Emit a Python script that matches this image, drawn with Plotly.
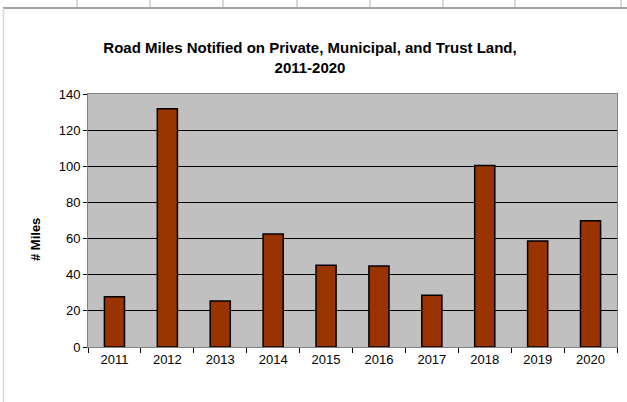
import plotly.graph_objects as go

years = ["2011", "2012", "2013", "2014", "2015", "2016", "2017", "2018", "2019", "2020"]
miles = [27.8, 131.8, 25.5, 62.5, 45.3, 44.8, 28.7, 100.4, 58.6, 69.9]
y_ticks = [0, 20, 40, 60, 80, 100, 120, 140]

W, H = 627, 402
L, R, T, B = 88, 10, 94, 55
pw, ph = W - L - R, H - T - B

def px(x):
    return (x - L) / pw

def py(y):
    return (H - B - y) / ph

fig = go.Figure()
fig.add_trace(go.Bar(
    x=years, y=miles,
    marker=dict(color="#993300", line=dict(color="#000000", width=1.5)),
    hoverinfo="x+y",
))

shapes = []
# spreadsheet cell gridlines at the top
for xv in [77, 150, 223, 297, 370, 443, 515, 621]:
    shapes.append(dict(type="line", xref="paper", yref="paper",
                       x0=px(xv), x1=px(xv), y0=py(0), y1=py(7),
                       line=dict(color="#b0b0b0", width=1)))
# chart frame
shapes.append(dict(type="line", xref="paper", yref="paper",
                   x0=px(3), x1=px(627), y0=py(8), y1=py(8),
                   line=dict(color="#808080", width=1.5)))
shapes.append(dict(type="line", xref="paper", yref="paper",
                   x0=px(3.5), x1=px(3.5), y0=py(8), y1=py(402),
                   line=dict(color="#d8d8d8", width=1.5)))

fig.update_layout(
    width=W, height=H,
    margin=dict(l=L, r=R, t=T, b=B),
    paper_bgcolor="#ffffff",
    plot_bgcolor="#c0c0c0",
    bargap=0.62,
    showlegend=False,
    font=dict(family="Liberation Sans, Arial, sans-serif", size=13, color="#000000"),
    title=dict(
        text="<b>Road Miles Notified on Private, Municipal, and Trust Land,<br>2011-2020</b>",
        x=310 / W, xanchor="center", y=1 - 53 / H, yanchor="middle",
        font=dict(size=15, color="#000000"),
    ),
    xaxis=dict(
        type="category",
        showgrid=False,
        showline=True, linecolor="#808080", linewidth=1, mirror=True,
        ticks="outside", tickson="boundaries", ticklen=5, tickcolor="#000000",
        tickfont=dict(size=13),
    ),
    yaxis=dict(
        range=[0, 140],
        tickvals=y_ticks,
        showgrid=True, gridcolor="#000000", gridwidth=1,
        zeroline=False,
        showline=True, linecolor="#808080", linewidth=1, mirror=True,
        ticks="outside", ticklen=4, tickcolor="#000000",
        tickfont=dict(size=13),
    ),
    shapes=shapes,
    annotations=[dict(
        text="<b># Miles</b>", textangle=-90,
        xref="paper", yref="paper", x=px(35), y=py(240),
        xanchor="center", yanchor="middle", showarrow=False,
        font=dict(size=13, color="#000000"),
    )],
)

fig.write_html("out.html", config={"displayModeBar": False},
               post_script="document.body.style.margin='0';")
